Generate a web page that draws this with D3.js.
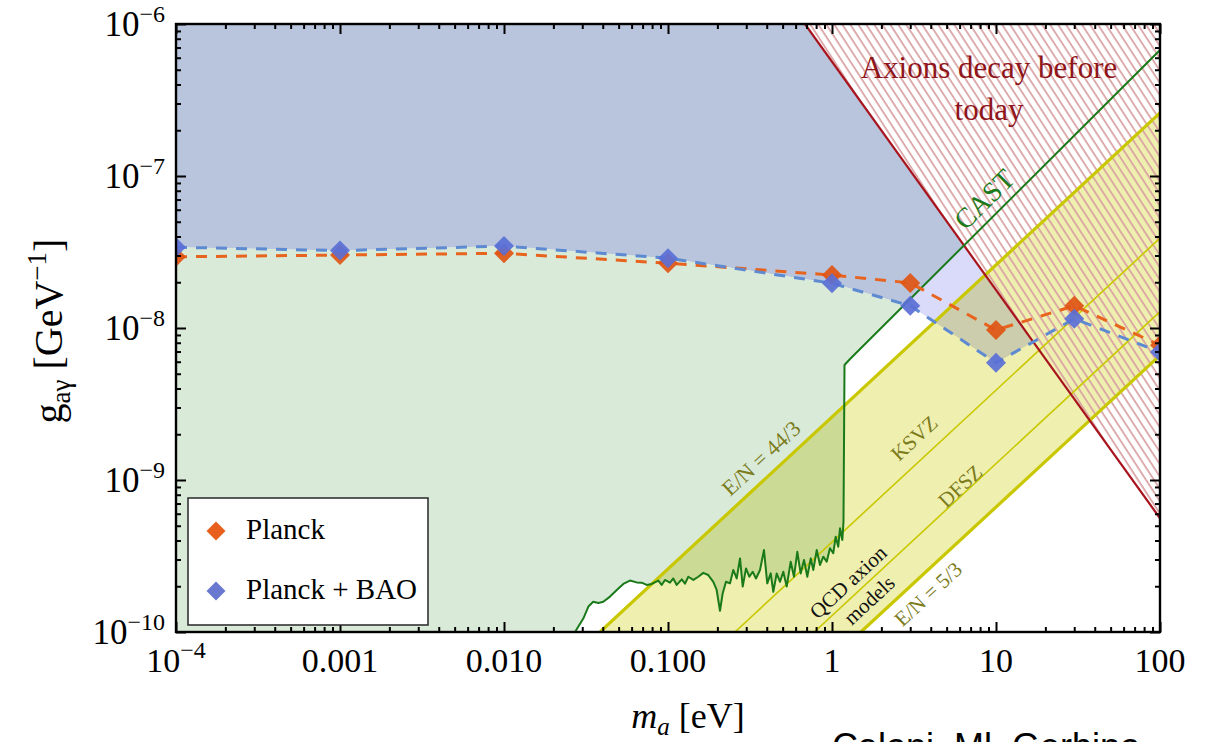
<!DOCTYPE html>
<html>
<head>
<meta charset="utf-8">
<script src="https://cdn.jsdelivr.net/npm/d3@7"></script>
<style>
  body { margin: 0; background: #fff; }
  text { font-family: "Liberation Serif", "DejaVu Serif", serif; }
</style>
</head>
<body>
<svg id="chart" width="1216" height="742"></svg>
<script>
// axion mass points where the bounds were computed (eV)
const masses = [1e-4, 1e-3, 1e-2, 0.1, 1, 3, 10, 30, 100];
// g_ay upper bounds (GeV^-1)
const planck    = [2.94e-8, 3.02e-8, 3.10e-8, 2.67e-8, 2.23e-8, 1.98e-8, 9.7e-9, 1.40e-8, 7.7e-9];
const planckBAO = [3.40e-8, 3.23e-8, 3.46e-8, 2.88e-8, 1.97e-8, 1.40e-8, 5.9e-9, 1.15e-8, 6.95e-9];

// CAST helioscope limit, [m_a, g]
const castLimit = [
  [0.0271, 1.00e-10], [0.0305, 1.23e-10], [0.0327, 1.47e-10], [0.0350, 1.58e-10],
  [0.0376, 1.55e-10], [0.0403, 1.58e-10], [0.0443, 1.71e-10], [0.0487, 1.89e-10],
  [0.0534, 2.07e-10], [0.0586, 2.18e-10], [0.0644, 2.12e-10], [0.0691, 2.11e-10],
  [0.0742, 2.04e-10], [0.0796, 2.07e-10], [0.0873, 2.18e-10], [0.0915, 2.04e-10],
  [0.0959, 2.20e-10], [0.1028, 2.11e-10], [0.1077, 2.25e-10], [0.113, 2.04e-10],
  [0.1213, 2.22e-10], [0.127, 2.08e-10], [0.133, 2.31e-10], [0.1427, 2.20e-10],
  [0.153, 2.31e-10], [0.1641, 2.45e-10], [0.176, 2.37e-10], [0.1889, 2.14e-10],
  [0.198, 1.89e-10], [0.2075, 1.38e-10], [0.2156, 1.80e-10], [0.2258, 2.14e-10],
  [0.2388, 2.09e-10], [0.250, 2.56e-10], [0.2624, 2.25e-10], [0.2748, 3.05e-10],
  [0.2855, 1.99e-10], [0.299, 2.62e-10], [0.3132, 2.31e-10], [0.3284, 2.49e-10],
  [0.344, 2.25e-10], [0.364, 2.56e-10], [0.3848, 3.46e-10], [0.403, 2.09e-10],
  [0.4229, 2.43e-10], [0.4386, 1.84e-10], [0.46, 2.43e-10], [0.482, 2.14e-10],
  [0.5047, 2.49e-10], [0.5295, 1.99e-10], [0.56, 2.90e-10], [0.5865, 2.31e-10],
  [0.6144, 3.37e-10], [0.644, 2.43e-10], [0.675, 2.98e-10], [0.707, 2.31e-10],
  [0.742, 3.05e-10], [0.769, 2.56e-10], [0.807, 3.46e-10], [0.845, 2.76e-10],
  [0.885, 3.13e-10], [0.928, 2.90e-10], [0.972, 3.56e-10], [1.018, 3.30e-10],
  [1.053, 4.24e-10], [1.092, 3.64e-10], [1.119, 4.81e-10], [1.156, 4.03e-10],
  [1.175, 5.30e-10], [1.192, 5.71e-9], [1.288, 6.25e-9], [100, 6.74e-7]
];

// lifetime = age of universe line
const decayLine = [[0.684, 1e-6], [100, 5.6e-10]];

// QCD axion model lines (end points)
const enTop   = [[0.0385, 1e-10], [100, 2.6e-7]];   // E/N = 44/3
const ksvz    = [[0.256, 1e-10], [100, 3.9e-8]];
const dfsz    = [[0.78, 1e-10], [100, 1.28e-8]];
const enBot   = [[1.5, 1e-10], [100, 6.6e-9]];      // E/N = 5/3

const xDecades = [1e-4, 1e-3, 1e-2, 0.1, 1, 10, 100];
const xTickLabels = [["10", "\u22124"], ["0.001"], ["0.010"], ["0.100"], ["1"], ["10"], ["100"]];
const yDecades = [1e-10, 1e-9, 1e-8, 1e-7, 1e-6];
const yTickExps = ["\u221210", "\u22129", "\u22128", "\u22127", "\u22126"];

const seriesNames = ["Planck", "Planck + BAO"];

const svg = d3.select("#chart");
const defs = svg.append("defs");

const X0 = 176, X1 = 1160, Y0 = 24, Y1 = 632;
const x = d3.scaleLog().domain([1e-4, 100]).range([X0, X1]);
const y = d3.scaleLog().domain([1e-10, 1e-6]).range([Y1, Y0]);

const pt = d => [x(d[0]), y(d[1])];
const poly = pts => "M" + pts.map(p => pt(p).join(",")).join("L") + "Z";

const straight = d3.line().x(d => x(d[0])).y(d => y(d[1]));

const plData = masses.map((m, i) => [m, planck[i]]);
const baoData = masses.map((m, i) => [m, planckBAO[i]]);
const baoPath = straight(baoData);
const aboveBao = baoPath + `L${X1},${Y0}L${X0},${Y0}Z`;
const belowBao = baoPath + `L${X1},${Y1}L${X0},${Y1}Z`;

defs.append("clipPath").attr("id", "plot")
  .append("rect").attr("x", X0).attr("y", Y0).attr("width", X1 - X0).attr("height", Y1 - Y0);
defs.append("clipPath").attr("id", "castLeft")
  .append("path").attr("d", poly([[1e-4, 1e-10], ...castLimit, [100, 1e-6], [1e-4, 1e-6]]));
defs.append("clipPath").attr("id", "leftRed")
  .append("path").attr("d", poly([[1e-4, 1e-10], [1e-4, 1e-6], decayLine[0], decayLine[1], [100, 1e-10]]));

const hatch = defs.append("pattern").attr("id", "hatch")
  .attr("patternUnits", "userSpaceOnUse").attr("width", 6.7).attr("height", 10)
  .attr("patternTransform", "rotate(-33)");
hatch.append("line").attr("x1", 3).attr("x2", 3).attr("y1", -1).attr("y2", 11)
  .attr("stroke", "#d9a0a2").attr("stroke-width", 1.7);

const plot = svg.append("g").attr("clip-path", "url(#plot)");

// excluded regions
const redSide = plot.append("g").attr("clip-path", "url(#leftRed)");
redSide.append("path").attr("d", aboveBao).attr("fill", "#dadbfa");
redSide.append("g").attr("clip-path", "url(#castLeft)")
  .append("path").attr("d", aboveBao).attr("fill", "#b8c5dc");
plot.append("g").attr("clip-path", "url(#castLeft)")
  .append("path").attr("d", belowBao).attr("fill", "#d9ead9");

// QCD axion band
plot.append("path")
  .attr("d", poly([enTop[0], enTop[1], enBot[1], enBot[0]]))
  .attr("fill", "#efefb0").style("mix-blend-mode", "multiply");

// hatched decay region
plot.append("path")
  .attr("d", poly([decayLine[0], [100, 1e-6], decayLine[1]]))
  .attr("fill", "url(#hatch)");

[[enTop, 3.2], [ksvz, 1.6], [dfsz, 1.6], [enBot, 3.2]].forEach(([d, w]) => {
  plot.append("path").attr("d", straight(d)).attr("fill", "none")
    .attr("stroke", "#c9c800").attr("stroke-width", w);
});

plot.append("path").attr("d", straight(decayLine)).attr("fill", "none")
  .attr("stroke", "#a8141e").attr("stroke-width", 2.2);

plot.append("path").attr("d", straight(castLimit)).attr("fill", "none")
  .attr("stroke", "#1a7a1a").attr("stroke-width", 2).attr("stroke-linejoin", "round");

// bounds
const diamond = d3.symbol(d3.symbolSquare, 200);
[[plData, "#e8641e", "#e05514"], [baoData, "#5e8ad2", "#5a6fd6"]].forEach(([data, lc, mc]) => {
  plot.append("path").attr("d", straight(data)).attr("fill", "none")
    .attr("stroke", lc).attr("stroke-width", 3).attr("stroke-dasharray", "11,9");
  plot.selectAll(null).data(data).enter().append("path")
    .attr("d", diamond)
    .attr("transform", d => `translate(${x(d[0])},${y(d[1])}) rotate(45)`)
    .attr("fill", mc).attr("fill-opacity", 0.92);
});

// in-plot labels
function slopeAngle(d) {
  const [a, b] = [pt(d[0]), pt(d[1])];
  return Math.atan2(b[1] - a[1], b[0] - a[0]) * 180 / Math.PI;
}
function label(txt, cx, cy, ang, size, color) {
  svg.append("text").attr("transform", `translate(${cx},${cy}) rotate(${ang})`)
    .attr("text-anchor", "middle").attr("dy", "0.35em")
    .attr("font-size", size).attr("fill", color).text(txt);
}
const olive = "#7c7c1c";
label("E/N = 44/3", 761, 458, slopeAngle(enTop), 22, olive);
label("KSVZ", 914, 438, slopeAngle(ksvz), 21, olive);
label("DFSZ", 960, 486, slopeAngle(dfsz), 21, olive);
label("E/N = 5/3", 928, 594, slopeAngle(enBot), 21, olive);
label("QCD axion", 848, 582, slopeAngle(ksvz), 21, "#111");
label("models", 869, 600, slopeAngle(ksvz), 21, "#111");
label("CAST", 984, 199, slopeAngle(castLimit.slice(-2)), 28, "#1a7a1a");

svg.append("text").attr("x", 989).attr("y", 78).attr("text-anchor", "middle")
  .attr("font-size", 31).attr("fill", "#8e1519").text("Axions decay before");
svg.append("text").attr("x", 989).attr("y", 120).attr("text-anchor", "middle")
  .attr("font-size", 31).attr("fill", "#8e1519").text("today");

// frame and ticks
const minorX = x.ticks().filter(v => !xDecades.some(d => Math.abs(d - v) / d < 1e-6));
const minorY = y.ticks().filter(v => !yDecades.some(d => Math.abs(d - v) / d < 1e-6));
const axes = [
  [d3.axisBottom, x, `translate(0,${Y1})`, minorX, xDecades],
  [d3.axisTop, x, `translate(0,${Y0})`, minorX, xDecades],
  [d3.axisLeft, y, `translate(${X0},0)`, minorY, yDecades],
  [d3.axisRight, y, `translate(${X1},0)`, minorY, yDecades]
];
axes.forEach(([ax, sc, tr, minor, major]) => {
  [[minor, -5], [major, -10]].forEach(([vals, len]) => {
    const g = svg.append("g").attr("transform", tr)
      .call(ax(sc).tickValues(vals).tickSize(len).tickFormat(""));
    g.select(".domain").remove();
    g.selectAll(".tick line").attr("stroke", "#000").attr("stroke-width", 2);
  });
});
svg.append("rect").attr("x", X0).attr("y", Y0).attr("width", X1 - X0).attr("height", Y1 - Y0)
  .attr("fill", "none").attr("stroke", "#000").attr("stroke-width", 2.4);

// tick labels
xDecades.forEach((v, i) => {
  const t = svg.append("text").attr("x", x(v)).attr("y", Y1 + 40)
    .attr("text-anchor", "middle").attr("font-size", 34);
  t.append("tspan").text(xTickLabels[i][0]);
  if (xTickLabels[i][1]) t.append("tspan").attr("dy", -14).attr("font-size", 24).text(xTickLabels[i][1]);
});
yDecades.forEach((v, i) => {
  const t = svg.append("text").attr("x", 165).attr("y", y(v) + 12)
    .attr("text-anchor", "end").attr("font-size", 35);
  t.append("tspan").text("10");
  t.append("tspan").attr("dy", -14).attr("font-size", 24).text(yTickExps[i]);
});

// axis titles
const xt = svg.append("text").attr("x", 688).attr("y", 728).attr("text-anchor", "middle").attr("font-size", 36);
xt.append("tspan").attr("font-style", "italic").text("m");
xt.append("tspan").attr("font-style", "italic").attr("font-size", 25).attr("dy", 7).text("a");
xt.append("tspan").attr("dy", -7).text(" [eV]");

const yt = svg.append("text").attr("transform", "translate(62,331) rotate(-90)")
  .attr("text-anchor", "middle").attr("font-size", 40);
yt.append("tspan").text("g");
yt.append("tspan").attr("font-size", 27).attr("dy", 8).text("a\u03b3");
yt.append("tspan").attr("dy", -8).text(" [GeV");
yt.append("tspan").attr("font-size", 27).attr("dy", -16).text("\u22121");
yt.append("tspan").attr("dy", 16).text("]");

// legend
const lg = svg.append("g");
lg.append("rect").attr("x", 188).attr("y", 498).attr("width", 240).attr("height", 127)
  .attr("fill", "#fff").attr("stroke", "#333").attr("stroke-width", 1.6);
const legendColors = ["#e8601c", "#6a78cf"];
seriesNames.forEach((name, i) => {
  const cy = 531 + i * 60;
  lg.append("path").attr("d", d3.symbol(d3.symbolSquare, 180))
    .attr("transform", `translate(216,${cy}) rotate(45)`).attr("fill", legendColors[i]);
  lg.append("text").attr("x", 246).attr("y", cy + 8).attr("font-size", 29).text(name);
});

svg.append("text").attr("x", 832).attr("y", 759).attr("font-size", 36)
  .style("font-family", "'Liberation Sans', Arial, sans-serif").text("Caloni, Ml, Gerbino");
</script>
</body>
</html>
